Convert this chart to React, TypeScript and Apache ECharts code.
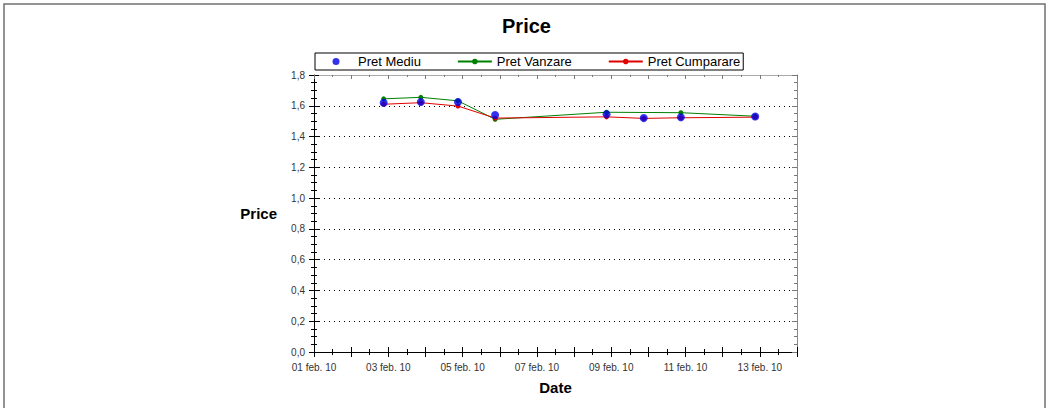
import React, { useEffect, useRef } from "react";
import * as echarts from "echarts";

const dates = [
  "2010-02-02T21:00:00Z",
  "2010-02-03T21:00:00Z",
  "2010-02-04T21:00:00Z",
  "2010-02-05T21:00:00Z",
  "2010-02-08T21:00:00Z",
  "2010-02-09T21:00:00Z",
  "2010-02-10T21:00:00Z",
  "2010-02-12T21:00:00Z",
];
const pretMediu = [1.62, 1.625, 1.625, 1.54, 1.545, 1.52, 1.525, 1.53];
const pretVanzare = [1.645, 1.655, 1.632, 1.512, 1.558, null, 1.555, 1.532];
const pretCumparare = [1.61, 1.62, 1.598, 1.52, 1.528, 1.518, 1.522, 1.526];
const yTicks = [0, 0.2, 0.4, 0.6, 0.8, 1.0, 1.2, 1.4, 1.6, 1.8];

const axisStart = "2010-02-01T00:00:00Z";
const dayCount = 13;

const FONT = "Liberation Sans, Arial, sans-serif";
const DOT_ICON =
  "path://M0,0M34,7M20.5,3.5A3.5,3.5,0,1,1,13.5,3.5A3.5,3.5,0,1,1,20.5,3.5Z";

function dayOffset(d: string): number {
  return (Date.parse(d) - Date.parse(axisStart)) / 86400000;
}

function pairs(vals: (number | null)[]) {
  const out: [number, number][] = [];
  vals.forEach((v, i) => {
    if (v !== null) out.push([dayOffset(dates[i]), v]);
  });
  return out;
}

function xLabel(v: number): string {
  const d = Math.round(v);
  if (d % 2 !== 0) return "";
  const day = d + 1;
  return (day < 10 ? "0" + day : "" + day) + " feb. 10";
}

export default function App() {
  const ref = useRef<HTMLDivElement>(null);
  useEffect(() => {
    document.body.style.margin = "0";
    if (!ref.current) return;
    const chart = echarts.init(ref.current, undefined, { renderer: "svg" });
    const yMin = yTicks[0];
    const yMax = yTicks[yTicks.length - 1];
    const yInt = yTicks[1] - yTicks[0];
    const baseX = {
      type: "value" as const,
      min: 0,
      max: dayCount,
      interval: 1,
      gridIndex: 0,
      splitLine: { show: false },
    };
    const baseY = {
      type: "value" as const,
      min: yMin,
      max: yMax,
      interval: yInt,
      gridIndex: 0,
    };
    chart.setOption({
      animation: false,
      backgroundColor: "#fff",
      textStyle: { fontFamily: FONT },
      title: {
        text: "Price",
        left: "center",
        top: 16,
        padding: 0,
        textStyle: { fontFamily: FONT, fontSize: 20, fontWeight: "bold", color: "#000" },
      },
      legend: {
        left: 315,
        top: 53,
        padding: [2, 3, 2, 4],
        itemGap: 36,
        itemWidth: 34,
        itemHeight: 7,
        borderColor: "#000",
        borderWidth: 1,
        backgroundColor: "#fff",
        textStyle: { fontFamily: FONT, fontSize: 13, color: "#000" },
        data: [
          { name: "Pret Mediu", icon: DOT_ICON },
          { name: "Pret Vanzare" },
          { name: "Pret Cumparare" },
        ],
      },
      grid: { left: 314, right: 256, top: 75, bottom: 56, containLabel: false },
      xAxis: [
        {
          ...baseX,
          position: "bottom",
          name: "Date",
          nameLocation: "middle",
          nameGap: 28,
          nameTextStyle: { fontFamily: FONT, fontSize: 15, fontWeight: "bold", color: "#000" },
          axisLine: { show: true, onZero: false, lineStyle: { color: "#000", width: 1 } },
          axisTick: { show: true, inside: false, length: 5, lineStyle: { color: "#000" } },
          minorTick: { show: true, splitNumber: 2, length: 3, lineStyle: { color: "#000" } },
          axisLabel: {
            formatter: xLabel,
            fontFamily: FONT,
            fontSize: 10,
            color: "#333",
            margin: 10,
          },
        },
        {
          ...baseX,
          position: "bottom",
          axisLine: { show: false, onZero: false },
          axisTick: { show: true, inside: true, length: 5, lineStyle: { color: "#000" } },
          minorTick: { show: true, splitNumber: 2, length: 3, lineStyle: { color: "#000" } },
          axisLabel: { show: false },
        },
        {
          ...baseX,
          position: "top",
          axisLine: { show: true, onZero: false, lineStyle: { color: "#aaa", width: 1 } },
          axisTick: { show: true, inside: true, length: 4, lineStyle: { color: "#777" } },
          minorTick: { show: true, splitNumber: 2, length: 2, lineStyle: { color: "#777" } },
          axisLabel: { show: false },
        },
      ],
      yAxis: [
        {
          ...baseY,
          position: "left",
          name: "Price",
          nameLocation: "middle",
          nameRotate: 0,
          nameGap: 37,
          nameTextStyle: { fontFamily: FONT, fontSize: 15, fontWeight: "bold", color: "#000" },
          axisLine: { show: true, onZero: false, lineStyle: { color: "#000", width: 1 } },
          axisTick: { show: true, inside: false, length: 5, lineStyle: { color: "#000" } },
          minorTick: { show: true, splitNumber: 4, length: 3, lineStyle: { color: "#000" } },
          axisLabel: {
            formatter: (v: number) => v.toFixed(1).replace(".", ","),
            fontFamily: FONT,
            fontSize: 10,
            color: "#333",
            margin: 9,
          },
          splitLine: {
            show: true,
            lineStyle: { color: "#000", width: 1, type: [1, 4] },
          },
        },
        {
          ...baseY,
          position: "left",
          axisLine: { show: false, onZero: false },
          axisTick: { show: true, inside: true, length: 5, lineStyle: { color: "#000" } },
          minorTick: { show: true, splitNumber: 4, length: 3, lineStyle: { color: "#000" } },
          axisLabel: { show: false },
          splitLine: { show: false },
        },
        {
          ...baseY,
          position: "right",
          axisLine: { show: true, onZero: false, lineStyle: { color: "#888", width: 1 } },
          axisTick: { show: true, inside: true, length: 5, lineStyle: { color: "#777" } },
          minorTick: { show: true, splitNumber: 4, length: 3, lineStyle: { color: "#777" } },
          axisLabel: { show: false },
          splitLine: { show: false },
        },
      ],
      series: [
        {
          name: "Pret Vanzare",
          type: "line",
          xAxisIndex: 0,
          yAxisIndex: 0,
          data: pairs(pretVanzare),
          color: "#008000",
          lineStyle: { width: 1, color: "#008000" },
          symbol: "circle",
          symbolSize: 5,
          z: 2,
        },
        {
          name: "Pret Cumparare",
          type: "line",
          xAxisIndex: 0,
          yAxisIndex: 0,
          data: pairs(pretCumparare),
          color: "#e00000",
          lineStyle: { width: 1, color: "#e00000" },
          symbol: "circle",
          symbolSize: 5,
          z: 2,
        },
        {
          name: "Pret Mediu",
          type: "scatter",
          xAxisIndex: 0,
          yAxisIndex: 0,
          data: pairs(pretMediu),
          color: "#0000e8",
          symbol: "circle",
          symbolSize: 8,
          z: 3,
        },
      ],
      graphic: [
        {
          type: "rect",
          shape: { x: 4, y: 4, width: 1041, height: 420 },
          style: { fill: "none", stroke: "#707070", lineWidth: 1.5 },
          silent: true,
        },
      ],
    });
    return () => chart.dispose();
  }, []);
  return <div ref={ref} style={{ width: 1053, height: 408 }} />;
}
